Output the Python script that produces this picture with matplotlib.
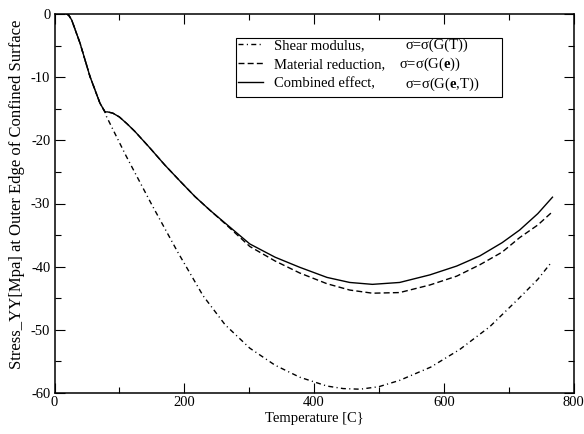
import matplotlib
matplotlib.use("Agg")
import matplotlib.pyplot as plt
from matplotlib.lines import Line2D
from matplotlib.patches import Rectangle
from matplotlib.ticker import MultipleLocator

plt.rcParams['font.family'] = ['Liberation Serif', 'DejaVu Serif']
plt.rcParams['mathtext.fontset'] = 'custom'
plt.rcParams['mathtext.rm'] = 'Liberation Serif'
plt.rcParams['mathtext.bf'] = 'Liberation Serif:bold'
plt.rcParams['axes.unicode_minus'] = False

# Shared initial branch
T_init = [18.8, 22, 26.5, 39.3, 54.7, 70, 77.8]
v_init = [0.0, -0.2, -0.95, -4.6, -9.9, -14.1, -15.5]

# Combined effect
T_comb = [82, 90, 100, 112, 124, 147, 170, 193, 216.5, 240, 263, 301, 340, 378, 420,
          455, 490, 532, 578.6, 620, 655.6, 690, 717, 745, 767.6]
v_comb = [-15.5, -15.7, -16.3, -17.4, -18.6, -21.2, -23.9, -26.4, -28.9, -31.1, -33.1,
          -36.4, -38.5, -40.1, -41.7, -42.5, -42.8, -42.5, -41.3, -39.9, -38.3,
          -36.2, -34.2, -31.6, -29.0]

# Material reduction
T_mat = [82, 90, 100, 112, 124, 147, 170, 193, 216.5, 240, 263, 301, 340, 378, 420,
         455, 490, 532, 578.6, 620, 655.6, 690, 717, 745, 767.6]
v_mat = [-15.5, -15.7, -16.3, -17.4, -18.6, -21.2, -23.9, -26.4, -28.9, -31.1, -33.2,
         -36.8, -39.1, -41.0, -42.7, -43.7, -44.2, -44.1, -42.9, -41.5, -39.7,
         -37.7, -35.4, -33.4, -31.3]

# Shear modulus
T_shear = [80, 110, 150, 190, 229, 263, 301, 340, 378, 420, 445, 471, 500, 532,
           580, 624.8, 671, 717, 745, 766]
v_shear = [-16.2, -22.4, -30.2, -37.7, -44.6, -49.2, -52.9, -55.6, -57.5, -58.9,
           -59.3, -59.4, -59.0, -58.0, -55.9, -53.1, -49.5, -44.9, -42.0, -39.3]

names = ["Shear modulus,", "Material reduction,", "Combined effect,"]
formulas = [r"σ=σ(G(T))", r"σ=σ(G($\mathbf{e}$))", r"σ=σ(G($\mathbf{e}$,T))"]
formula_x_px = [405, 399, 405]

W, H = 584, 434
fig = plt.figure(figsize=(W / 100, H / 100), dpi=100)
ax = fig.add_axes([54.5 / W, 41 / H, 519 / W, 379 / H])

lw = 1.0
ls_dashdot = (0, (3.6, 2.4, 0.8, 2.4))
ls_dash = (0, (4.3, 2.3))

l1, = ax.plot(T_init + T_shear, v_init + v_shear, color='black', lw=lw, linestyle=ls_dashdot)
l2, = ax.plot(T_init + T_mat, v_init + v_mat, color='black', lw=lw, linestyle=ls_dash)
l3, = ax.plot(T_init + T_comb, v_init + v_comb, color='black', lw=lw, linestyle='-')

ax.set_xlim(0, 800)
ax.set_ylim(-60, 0)
ax.xaxis.set_major_locator(MultipleLocator(200))
ax.xaxis.set_minor_locator(MultipleLocator(100))
ax.yaxis.set_major_locator(MultipleLocator(10))
ax.yaxis.set_minor_locator(MultipleLocator(5))
ax.tick_params(which='both', direction='in', top=True, right=True, width=0.8,
               labelsize=10.5, colors='black')
ax.tick_params(which='major', length=7.5)
ax.tick_params(which='minor', length=4)
ax.tick_params(axis='x', pad=2)
ax.tick_params(axis='y', pad=3)
for s in ax.spines.values():
    s.set_linewidth(1.1)

ax.set_xlabel("Temperature [C}", fontsize=10.5, labelpad=2)
ax.set_ylabel("Stress_YY[Mpa] at Outer Edge of Confined Surface", fontsize=12)
ax.yaxis.set_label_coords((25 - 54.5) / 519, (393 - 194) / 379)

# legend frame (pixel box 236..502 x 38..97)
box = Rectangle(((236 - 54.5) / 519, (393 - 97) / 379), 266 / 519, 59 / 379,
                transform=ax.transAxes, facecolor='white', edgecolor='black',
                linewidth=0.8, zorder=4)
ax.add_patch(box)

leg = ax.legend([l1, l2, l3], names, loc='upper left',
                bbox_to_anchor=((238 - 54.5) / 519, (393 - 38.5) / 379),
                borderaxespad=0, borderpad=0, frameon=False,
                fontsize=10.5, handlelength=1.71, handletextpad=0.75,
                labelspacing=0.42)
leg.set_zorder(5)

fig.canvas.draw()
for t, f, xp in zip(leg.get_texts(), formulas, formula_x_px):
    xd, yd = t.get_transform().transform(t.get_position())
    fig.text(xp / W, yd / fig.bbox.height, f, va='baseline', ha='left',
             fontsize=10.5, zorder=6)

fig.savefig("out.png", dpi=100)
